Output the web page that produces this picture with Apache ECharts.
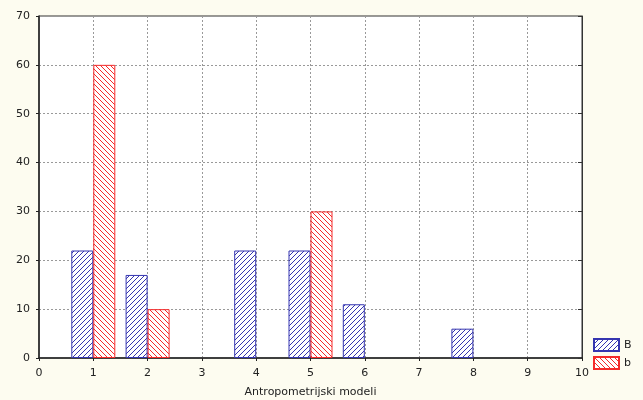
<!DOCTYPE html>
<html>
<head>
<meta charset="utf-8">
<script src="https://cdn.jsdelivr.net/npm/echarts@6/dist/echarts.min.js"></script>
<style>
  html, body { margin: 0; padding: 0; background: #fdfcf0; }
  #chart { width: 643px; height: 400px; }
</style>
</head>
<body>
<div id="chart"></div>
<script>
// Model numbers and counts for each group
const modelsB = [1, 2, 4, 5, 6, 8];
const valuesB = [22, 17, 22, 22, 11, 6];
const modelsb = [1, 2, 5];
const valuesb = [60, 10, 30];
const xTicks = [0, 1, 2, 3, 4, 5, 6, 7, 8, 9, 10];
const yTicks = [0, 10, 20, 30, 40, 50, 60, 70];
const seriesNames = ['B', 'b'];

// Diagonal hatch fill; dir = 1 draws "/" stripes, -1 draws "\" stripes
function hatch(color, dir) {
  const s = 5;
  const c = document.createElement('canvas');
  c.width = s; c.height = s;
  const g = c.getContext('2d');
  g.fillStyle = '#ffffff';
  g.fillRect(0, 0, s, s);
  g.strokeStyle = color;
  g.lineWidth = 1;
  g.beginPath();
  if (dir > 0) {
    g.moveTo(-1, s + 1); g.lineTo(s + 1, -1);
    g.moveTo(-1, 1); g.lineTo(1, -1);
    g.moveTo(s - 1, s + 1); g.lineTo(s + 1, s - 1);
  } else {
    g.moveTo(-1, -1); g.lineTo(s + 1, s + 1);
    g.moveTo(s - 1, -1); g.lineTo(s + 1, 1);
    g.moveTo(-1, s - 1); g.lineTo(1, s + 1);
  }
  g.stroke();
  return c;
}

const blue = '#3535b0';
const red = '#f52a2a';
const font = 'DejaVu Sans, Verdana, sans-serif';

const chart = echarts.init(document.getElementById('chart'), null, { renderer: 'canvas' });
chart.setOption({
  backgroundColor: '#fdfcf0',
  animation: false,
  textStyle: { fontFamily: font },
  grid: {
    left: 39, top: 16, width: 543, height: 342,
    outerBoundsMode: 'none', containLabel: false,
    show: true, backgroundColor: '#ffffff', borderColor: '#333', borderWidth: 1
  },
  legend: {
    data: seriesNames,
    orient: 'vertical',
    left: 593, top: 338, padding: 0,
    icon: 'rect',
    itemWidth: 25, itemHeight: 12, itemGap: 4,
    textStyle: { fontSize: 11, color: '#222', fontFamily: font }
  },
  xAxis: [{
    type: 'value', min: 0, max: 10, interval: 1,
    name: 'Antropometrijski modeli', nameLocation: 'middle', nameGap: 29,
    nameTextStyle: { fontSize: 11, color: '#222', fontFamily: font },
    axisLine: { lineStyle: { color: '#222', width: 1.5 } },
    axisTick: { show: true, length: 3, lineStyle: { color: '#222' } },
    axisLabel: { fontSize: 11, color: '#222', margin: 10, fontFamily: font,
      formatter: v => xTicks.includes(v) ? String(v) : '' },
    splitLine: { show: true, lineStyle: { type: [2, 2], color: '#999', width: 1 } }
  }],
  yAxis: [{
    type: 'value', min: 0, max: 70, interval: 10,
    axisLine: { show: true, lineStyle: { color: '#222', width: 1.5 } },
    axisTick: { show: true, length: 3, lineStyle: { color: '#222' } },
    axisLabel: { fontSize: 11, color: '#222', margin: 9, fontFamily: font,
      formatter: v => yTicks.includes(v) ? String(v) : '' },
    splitLine: { show: true, lineStyle: { type: [2, 2], color: '#999', width: 1 } }
  }, {
    type: 'value', min: 0, max: 70, interval: 10, position: 'right',
    axisLine: { show: true, lineStyle: { color: '#333', width: 1 } },
    axisTick: { show: true, inside: true, length: 4, lineStyle: { color: '#333' } },
    axisLabel: { show: false },
    splitLine: { show: false }
  }],
  series: [{
    name: seriesNames[0], type: 'bar', barWidth: 22, barGap: '0%',
    data: modelsB.map((m, i) => [m, valuesB[i]]),
    itemStyle: { color: { image: hatch(blue, 1), repeat: 'repeat' }, borderColor: blue, borderWidth: 1 }
  }, {
    name: seriesNames[1], type: 'bar', barWidth: 22, barGap: '0%',
    data: modelsb.map((m, i) => [m, valuesb[i]]),
    itemStyle: { color: { image: hatch(red, -1), repeat: 'repeat' }, borderColor: red, borderWidth: 1 }
  }]
});
</script>
</body>
</html>
